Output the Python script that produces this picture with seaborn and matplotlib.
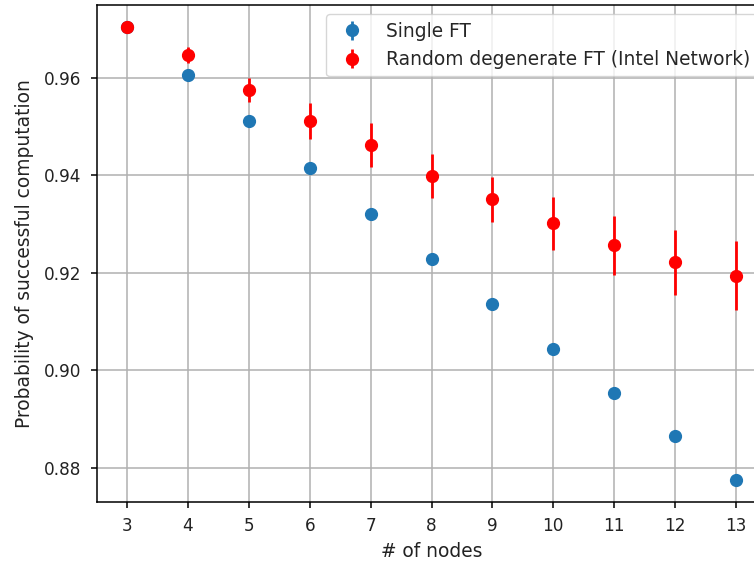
import matplotlib
matplotlib.use("Agg")
import matplotlib.pyplot as plt
import seaborn as sns

# Number of nodes in the network
nodes = [3, 4, 5, 6, 7, 8, 9, 10, 11, 12, 13]

# Single fault-tolerant scheme
single_ft = [0.9703, 0.9606, 0.9510, 0.9415, 0.9321, 0.9227,
             0.9135, 0.9044, 0.8953, 0.8864, 0.8775]
single_err = [0.0, 0.0, 0.0, 0.0, 0.0, 0.0, 0.0, 0.0, 0.0, 0.0, 0.0]

# Random degenerate fault-tolerant scheme on the Intel network
random_ft = [0.9704, 0.9646, 0.9575, 0.9511, 0.9462, 0.9398,
             0.9350, 0.9301, 0.9256, 0.9221, 0.9194]
random_err = [0.0, 0.0016, 0.0025, 0.0036, 0.0045, 0.0045,
              0.0046, 0.0054, 0.0061, 0.0066, 0.0070]

sns.set_style("ticks")
plt.rcParams["font.family"] = ["DejaVu Sans"]
plt.rcParams["font.size"] = 12

fig = plt.figure(figsize=(7.54, 5.61), dpi=100)
ax = fig.add_axes([0.128, 0.1057, 0.8886, 0.8854])

ax.errorbar(nodes, single_ft, yerr=single_err, fmt="o", color="#1f77b4",
            markersize=8.5, elinewidth=2, label="Single FT")
ax.errorbar(nodes, random_ft, yerr=random_err, fmt="o", color="red",
            markersize=8.5, elinewidth=2,
            label="Random degenerate FT (Intel Network)")

ax.set_xlim(2.5, 13.5)
ax.set_ylim(0.8730, 0.9749)
ax.set_xticks(nodes)
ax.set_yticks([0.88, 0.90, 0.92, 0.94, 0.96])
ax.set_yticklabels(["0.88", "0.90", "0.92", "0.94", "0.96"])
ax.tick_params(labelsize=12.2, length=4.4, width=1.1, color="black",
               labelcolor="#222222", pad=6.3)
ax.grid(True, color="#b0b0b0", linewidth=1.1)
ax.set_axisbelow(True)
for s in ax.spines.values():
    s.set_color("black")
    s.set_linewidth(1.1)

ax.set_xlabel("# of nodes", fontsize=13.4, color="#222222", labelpad=5)
ax.set_ylabel("Probability of successful computation", fontsize=13.4,
              color="#222222", labelpad=7)

ax.legend(loc="upper right", fontsize=13.4, framealpha=0.8, edgecolor="#cccccc",
          fancybox=True)

fig.savefig("out.png", dpi=100)
